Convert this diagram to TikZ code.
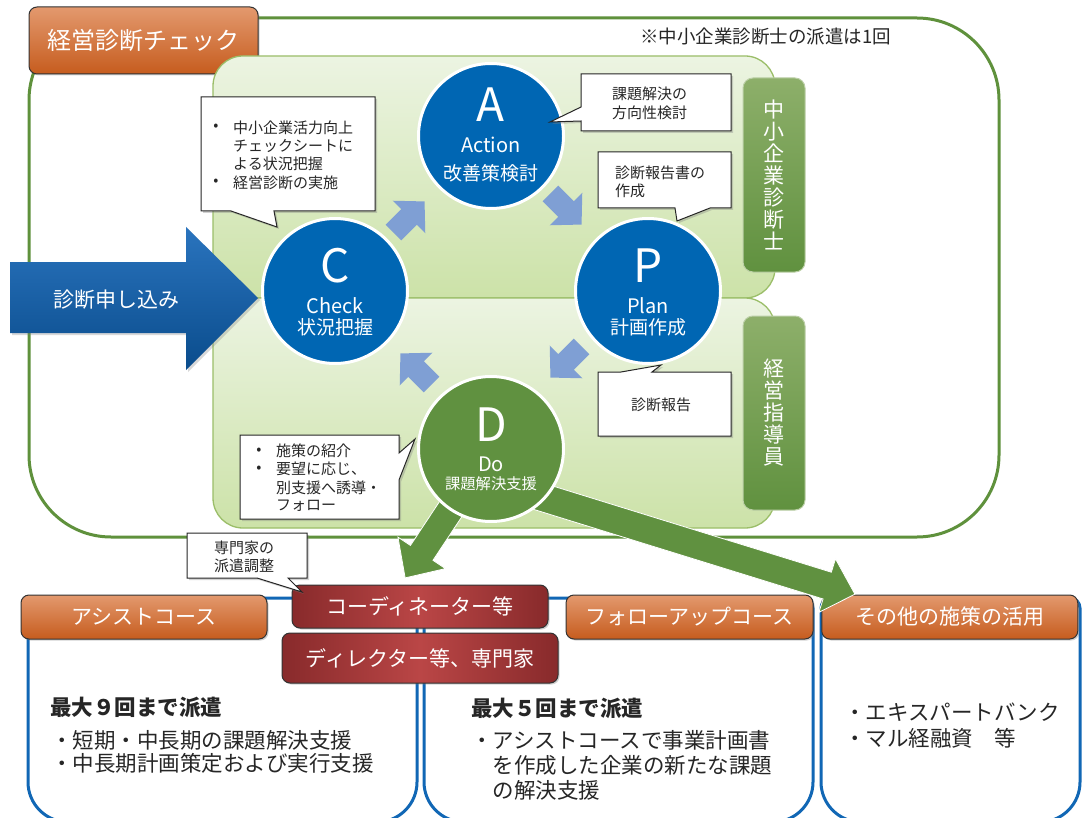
\documentclass[tikz,border=0pt]{standalone}
\usepackage{fontspec}
\setmainfont{Noto Sans CJK JP}
\usetikzlibrary{shadows}
\newcommand\fsz[2]{\fontsize{#1}{#2}\selectfont}
\definecolor{grO}{RGB}{95,145,60}
\definecolor{lgE}{RGB}{155,190,105}
\definecolor{lgT}{RGB}{236,244,226}
\definecolor{lgB}{RGB}{204,226,168}
\definecolor{bC}{RGB}{0,102,179}
\definecolor{grD}{RGB}{96,145,64}
\definecolor{arB}{RGB}{127,159,212}
\definecolor{vbT}{RGB}{141,175,106}
\definecolor{vbB}{RGB}{96,145,63}
\definecolor{orT}{RGB}{227,153,110}
\definecolor{orB}{RGB}{198,92,30}
\definecolor{rdM}{RGB}{186,70,70}
\definecolor{rdE}{RGB}{136,42,43}
\definecolor{bxB}{RGB}{17,103,181}
\definecolor{baT}{RGB}{42,116,190}
\definecolor{baB}{RGB}{10,76,140}
\definecolor{txt}{RGB}{38,38,38}
\begin{document}
\begin{tikzpicture}[x=1pt,y=-1pt,
  orangebox/.style={draw=black!80, line width=1pt, rounded corners=8pt, top color=orT, bottom color=orB, text=white, font=\fsz{21}{24}, inner sep=0pt, drop shadow={shadow xshift=1.5pt, shadow yshift=-1.5pt, opacity=0.35}},
  redbox/.style={draw=black!80, line width=1pt, rounded corners=8pt, left color=rdE, right color=rdE, middle color=rdM, text=white, font=\fsz{21}{24}, inner sep=0pt, drop shadow={shadow xshift=1.5pt, shadow yshift=-1.5pt, opacity=0.35}},
  vbox/.style={draw=vbT!60!white, line width=1pt, rounded corners=10pt, top color=vbT, bottom color=vbB, text=white, font=\fsz{21}{22}, align=center, inner sep=0pt, minimum width=62pt, minimum height=194pt},
  circ/.style={circle, draw=white, line width=3pt, minimum size=145pt, inner sep=0pt},
  wt/.style={inner sep=0pt, text=white},
  callout/.style={draw=black!85, fill=white, line width=1pt, drop shadow={shadow xshift=2pt, shadow yshift=-2pt, opacity=0.35}},
  ctext/.style={inner sep=0pt, text=txt, font=\fsz{15}{19}},
  smarrow/.style={fill=arB, draw=none},
  bigarrow/.style={fill=grD, draw=white, line width=0.8pt},
  bluebox/.style={draw=bxB, line width=3pt},
  lgbox/.style={draw=lgE, line width=1.3pt, rounded corners=30pt, top color=lgT, bottom color=lgB},
  btxt/.style={inner sep=0pt, text=txt, font=\fsz{21.5}{24}, anchor=west}
]
\useasboundingbox (0,0) rectangle (1083,818);
\fill[white] (0,0) rectangle (1083,818);

% outer frame
\draw[draw=grO, line width=3pt, rounded corners=82pt] (29,18) rectangle (999,537);
\node[orangebox, font=\fsz{24}{26}, minimum width=229pt, minimum height=67pt] (title) at (143.5,40.5) {経営診断チェック};
\node[inner sep=0pt, text=txt, font=\fsz{18.5}{20}] (note) at (765.5,37) {※中小企業診断士の派遣は1回};

% light green areas
\path[lgbox] (213,56) rectangle (775,298);
\path[lgbox] (213,298) rectangle (775,528);

% vertical labels
\node[vbox] (v1) at (774,175) {中\\小\\企\\業\\診\\断\\士};
\node[vbox] (v2) at (774,413) {経\\営\\指\\導\\員};

% bottom boxes
\draw[bluebox] (28,650) [rounded corners=10pt] -- (28,598) -- (417,598) -- (417,650) [rounded corners=40pt] -- (417,822) -- (28,822) -- cycle;
\draw[bluebox] (424,650) [rounded corners=10pt] -- (424,598) -- (813,598) -- (813,650) [rounded corners=40pt] -- (813,822) -- (424,822) -- cycle;
\draw[bluebox] (821,650) [rounded corners=10pt] -- (821,598) -- (1080,598) -- (1080,650) [rounded corners=40pt] -- (1080,822) -- (821,822) -- cycle;

\node[orangebox, minimum width=246pt, minimum height=44pt] (assist) at (144,617) {アシストコース};
\node[orangebox, minimum width=247pt, minimum height=44pt] (follow) at (689.5,617) {フォローアップコース};
\node[orangebox, minimum width=256pt, minimum height=44pt] (other) at (949.75,617) {その他の施策の活用};
\node[redbox, minimum width=256pt, minimum height=43pt] (coord) at (420,606.5) {コーディネーター等};
\node[redbox, minimum width=276pt, minimum height=50pt] (director) at (420,658) {ディレクター等、専門家};

% big green arrows
\coordinate (g1s) at (462,492);
\coordinate (g2s) at (520,490.5);
\path[bigarrow, shift={(g1s)}, rotate=236.5] (0,-13.5) -- (73,-13.5) -- (73,-28.5) -- (103,0) -- (73,28.5) -- (73,13.5) -- (0,13.5) -- cycle;
\path[bigarrow, shift={(g2s)}, rotate=-17.2] (0,-14) -- (321.6,-14) -- (321.6,-28) -- (350.6,0) -- (321.6,28) -- (321.6,14) -- (0,14) -- cycle;

% big blue arrow
\path[top color=baT, bottom color=baB, drop shadow={shadow xshift=2pt, shadow yshift=-2pt, opacity=0.3}] (10,262) -- (186,262) -- (186,227) -- (258,298) -- (186,370) -- (186,333) -- (10,333) -- cycle;
\node[wt, font=\fsz{21}{24}] (apply) at (116,300) {診断申し込み};

% small cycle arrows
\foreach \px/\py/\ang in {409/217/45, 566/209/-45, 566/362/-135, 416/369/135}
  \fill[smarrow, shift={(\px,\py)}, rotate=\ang] (-22,-11) -- (0,-11) -- (0,-23) -- (22,0) -- (0,23) -- (0,11) -- (-22,11) -- cycle;

% circles
\node[circ, fill=bC] (A) at (491,136) {};
\node[circ, fill=bC] (C) at (335,291) {};
\node[circ, fill=bC] (P) at (648,291) {};
\node[circ, fill=grD] (D) at (491,449) {};
\node[wt, font=\fsz{46}{46}] (Al) at (490,105) {A};
\node[wt, font=\fsz{20}{22}] (Aa) at (491,144.5) {Action};
\node[wt, font=\fsz{19}{22}] (Aj) at (491,173) {改善策検討};
\node[wt, font=\fsz{46}{46}] (Cl) at (335,265.5) {C};
\node[wt, font=\fsz{20}{22}] (Ca) at (335,305.5) {Check};
\node[wt, font=\fsz{19}{22}] (Cj) at (335,327) {状況把握};
\node[wt, font=\fsz{46}{46}] (Pl) at (648,265.5) {P};
\node[wt, font=\fsz{20}{22}] (Pa) at (648,305.5) {Plan};
\node[wt, font=\fsz{19}{22}] (Pj) at (648,327) {計画作成};
\node[wt, font=\fsz{46}{46}] (Dl) at (491,424.5) {D};
\node[wt, font=\fsz{20}{22}] (Da) at (491,464) {Do};
\node[wt, font=\fsz{15.3}{18}] (Dj) at (491,484) {課題解決支援};

% callouts
\path[callout] (201,97) -- (375,97) -- (375,211) -- (274,211) -- (277,227) -- (231,211) -- (201,211) -- cycle;
\node[ctext] (cb1) at (216,127.5) {•};
\node[ctext, anchor=west] (ct1) at (233,127.5) {中小企業活力向上};
\node[ctext, anchor=west] (ct2) at (233,146) {チェックシートに};
\node[ctext, anchor=west] (ct3) at (233,164) {よる状況把握};
\node[ctext] (cb2) at (216,182.5) {•};
\node[ctext, anchor=west] (ct4) at (233,182.5) {経営診断の実施};

\path[callout] (581,74) -- (731,74) -- (731,131) -- (581,131) -- (581,121) -- (550,122) -- (581,107) -- cycle;
\node[ctext, anchor=west] (at1) at (612,94) {課題解決の};
\node[ctext, anchor=west] (at2) at (612,113) {方向性検討};

\path[callout] (598,152) -- (731,152) -- (731,208) -- (710,208) -- (677,221) -- (675,208) -- (598,208) -- cycle;
\node[ctext, anchor=west] (pt1) at (615,172.5) {診断報告書の};
\node[ctext, anchor=west] (pt2) at (615,191) {作成};

\path[callout] (598,372) -- (621,372) -- (661,365) -- (652,372) -- (731,372) -- (731,436) -- (598,436) -- cycle;
\node[ctext] (rt1) at (661,405) {診断報告};

\path[callout] (240,435) -- (399,435) -- (399,453) -- (415,439) -- (399,480) -- (399,519) -- (240,519) -- cycle;
\node[ctext] (db1) at (259,451) {•};
\node[ctext, anchor=west] (dt1) at (276,451) {施策の紹介};
\node[ctext] (db2) at (259,469) {•};
\node[ctext, anchor=west] (dt2) at (276,469) {要望に応じ、};
\node[ctext, anchor=west] (dt3) at (276,487.5) {別支援へ誘導・};
\node[ctext, anchor=west] (dt4) at (276,506) {フォロー};

\path[callout] (187,533) -- (307,533) -- (307,578) -- (288,578) -- (302,592) -- (257,578) -- (187,578) -- cycle;
\node[ctext] (et1) at (244,548) {専門家の};
\node[ctext] (et2) at (244,566) {派遣調整};

% bottom texts
\node[btxt, font=\fsz{21.5}{24}\bfseries] (h9) at (50,707) {最大９回まで派遣};
\node[btxt] (l1) at (51,740) {・短期・中長期の課題解決支援};
\node[btxt] (l2) at (51,763) {・中長期計画策定および実行支援};
\node[btxt, font=\fsz{21.5}{24}\bfseries] (h5) at (471,708) {最大５回まで派遣};
\node[btxt] (m1) at (471,740) {・アシストコースで事業計画書};
\node[btxt] (m2) at (492.5,765) {を作成した企業の新たな課題};
\node[btxt] (m3) at (492.5,790) {の解決支援};
\node[btxt] (r1) at (844,712) {・エキスパートバンク};
\node[btxt] (r2) at (844,738) {・マル経融資　等};
\end{tikzpicture}
\end{document}
